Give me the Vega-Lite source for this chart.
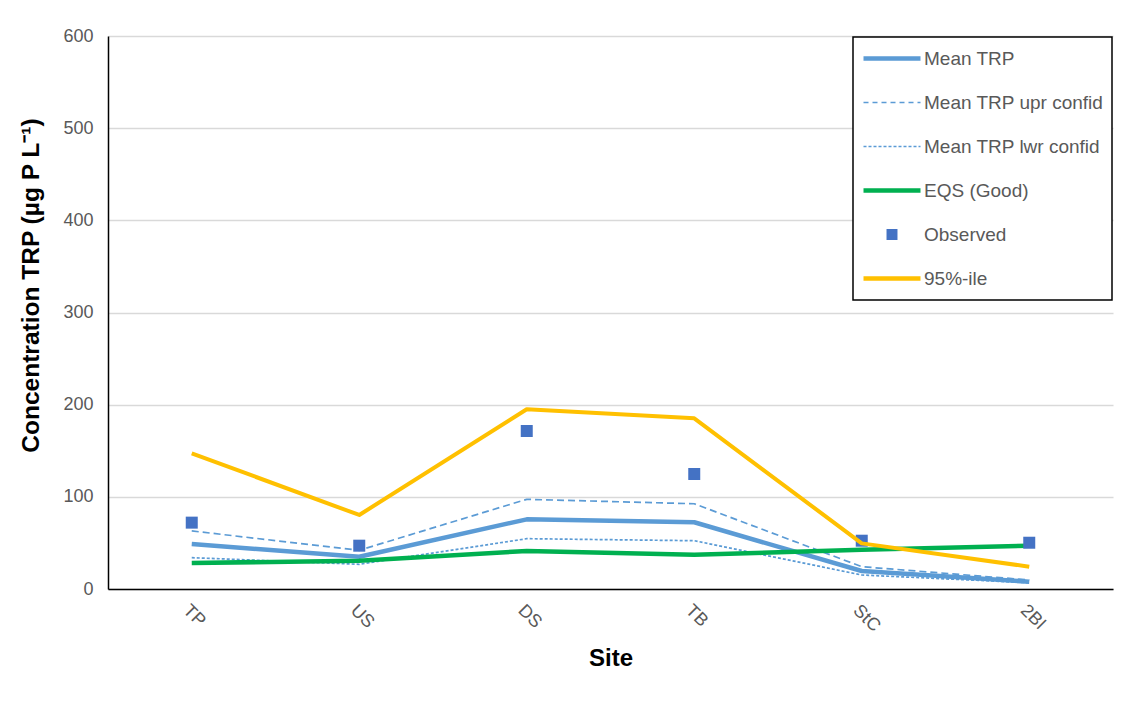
{
  "$schema": "https://vega.github.io/schema/vega-lite/v6.json",
  "width": 1005,
  "height": 553,
  "autosize": {"type": "none"},
  "padding": {"left": 108, "top": 36, "right": 23, "bottom": 135},
  "background": "white",
  "config": {
    "view": {"stroke": null},
    "font": "Liberation Sans"
  },
  "data": {
    "values": [
      {"site": "TP", "series": "Mean TRP", "value": 48.8},
      {"site": "US", "series": "Mean TRP", "value": 35},
      {"site": "DS", "series": "Mean TRP", "value": 75.6},
      {"site": "TB", "series": "Mean TRP", "value": 72.4},
      {"site": "StC", "series": "Mean TRP", "value": 19.5},
      {"site": "2BI", "series": "Mean TRP", "value": 7.9},
      {"site": "TP", "series": "Mean TRP upr confid", "value": 63},
      {"site": "US", "series": "Mean TRP upr confid", "value": 42},
      {"site": "DS", "series": "Mean TRP upr confid", "value": 97.3},
      {"site": "TB", "series": "Mean TRP upr confid", "value": 92.5},
      {"site": "StC", "series": "Mean TRP upr confid", "value": 24.2},
      {"site": "2BI", "series": "Mean TRP upr confid", "value": 9.8},
      {"site": "TP", "series": "Mean TRP lwr confid", "value": 34},
      {"site": "US", "series": "Mean TRP lwr confid", "value": 26.8},
      {"site": "DS", "series": "Mean TRP lwr confid", "value": 54.6},
      {"site": "TB", "series": "Mean TRP lwr confid", "value": 52.4},
      {"site": "StC", "series": "Mean TRP lwr confid", "value": 15.2},
      {"site": "2BI", "series": "Mean TRP lwr confid", "value": 6.8},
      {"site": "TP", "series": "EQS (Good)", "value": 28.2},
      {"site": "US", "series": "EQS (Good)", "value": 30.7},
      {"site": "DS", "series": "EQS (Good)", "value": 41.2},
      {"site": "TB", "series": "EQS (Good)", "value": 37.2},
      {"site": "StC", "series": "EQS (Good)", "value": 42.6},
      {"site": "2BI", "series": "EQS (Good)", "value": 47},
      {"site": "TP", "series": "Observed", "value": 72},
      {"site": "US", "series": "Observed", "value": 47},
      {"site": "DS", "series": "Observed", "value": 171.4},
      {"site": "TB", "series": "Observed", "value": 124.8},
      {"site": "StC", "series": "Observed", "value": 52.4},
      {"site": "2BI", "series": "Observed", "value": 50.2},
      {"site": "TP", "series": "95%-ile", "value": 147.2},
      {"site": "US", "series": "95%-ile", "value": 80.3},
      {"site": "DS", "series": "95%-ile", "value": 195},
      {"site": "TB", "series": "95%-ile", "value": 185.2},
      {"site": "StC", "series": "95%-ile", "value": 49.5},
      {"site": "2BI", "series": "95%-ile", "value": 24.2}
    ]
  },
  "encoding": {
    "x": {
      "field": "site",
      "type": "nominal",
      "sort": ["TP", "US", "DS", "TB", "StC", "2BI"],
      "scale": {"type": "point", "padding": 0.5},
      "axis": {
        "title": "Site",
        "titleFontSize": 24,
        "titleFontWeight": "bold",
        "titleColor": "black",
        "titlePadding": 12,
        "labelAngle": 45,
        "labelAlign": "left",
        "labelBaseline": "top",
        "labelFontSize": 18,
        "labelColor": "#595959",
        "labelPadding": 12,
        "labelDx": 8,
        "ticks": false,
        "domainColor": "black",
        "domainWidth": 1.5,
        "grid": false
      }
    },
    "y": {
      "field": "value",
      "type": "quantitative",
      "scale": {"domain": [0, 600], "nice": false},
      "axis": {
        "title": "Concentration TRP (µg P L⁻¹)",
        "titleFontSize": 24.5,
        "titleFontWeight": "bold",
        "titleColor": "black",
        "titlePadding": 19,
        "titleY": 249,
        "values": [0, 100, 200, 300, 400, 500, 600],
        "labelFontSize": 18,
        "labelColor": "#595959",
        "labelPadding": 15,
        "ticks": false,
        "domainColor": "black",
        "domainWidth": 1.5,
        "gridColor": "#D9D9D9",
        "gridWidth": 1.3
      }
    },
    "color": {
      "field": "series",
      "type": "nominal",
      "scale": {
        "domain": ["Mean TRP", "Mean TRP upr confid", "Mean TRP lwr confid", "EQS (Good)", "Observed", "95%-ile"],
        "range": ["#5B9BD5", "#5B9BD5", "#5B9BD5", "#00B050", "#4472C4", "#FFC000"]
      },
      "legend": {
        "title": null,
        "orient": "none",
        "legendX": 745,
        "legendY": 1,
        "strokeColor": "black",
        "fillColor": "white",
        "padding": 8,
        "rowPadding": 17,
        "clipHeight": 27,
        "symbolSize": 3249,
        "symbolType": "stroke",
        "labelFontSize": 19,
        "labelColor": "#595959",
        "labelOffset": 1,
        "labelLimit": 400,
        "encode": {
          "legend": {"update": {"strokeWidth": {"value": 1.5}}},
          "symbols": {
            "update": {
              "shape": {"signal": "(datum.value === 'Observed' ? 'square' : 'stroke')"},
              "size": {"signal": "(datum.value === 'Observed' ? 120 : 3249)"},
              "strokeWidth": {"signal": "(datum.value === 'Observed' ? 0 : ((datum.value === 'Mean TRP upr confid' || datum.value === 'Mean TRP lwr confid') ? 1.6 : 4.5))"},
              "strokeDash": {"signal": "(datum.value === 'Mean TRP upr confid' ? [5, 4] : (datum.value === 'Mean TRP lwr confid' ? [3, 2] : [1, 0]))"},
              "fill": {"signal": "(datum.value === 'Observed' ? '#4472C4' : 'transparent')"},
              "opacity": {"value": 1}
            }
          }
        }
      }
    }
  },
  "layer": [
    {
      "transform": [{"filter": "datum.series === 'Mean TRP'"}],
      "mark": {"type": "line", "strokeWidth": 4.5, "strokeJoin": "round"}
    },
    {
      "transform": [{"filter": "datum.series === 'Mean TRP upr confid'"}],
      "mark": {"type": "line", "strokeWidth": 1.7, "strokeDash": [7, 4]}
    },
    {
      "transform": [{"filter": "datum.series === 'Mean TRP lwr confid'"}],
      "mark": {"type": "line", "strokeWidth": 1.7, "strokeDash": [3, 2]}
    },
    {
      "transform": [{"filter": "datum.series === 'EQS (Good)'"}],
      "mark": {"type": "line", "strokeWidth": 4.5, "strokeJoin": "round"}
    },
    {
      "transform": [{"filter": "datum.series === 'Observed'"}],
      "mark": {"type": "point", "shape": "square", "filled": true, "size": 144, "opacity": 1}
    },
    {
      "transform": [{"filter": "datum.series === '95%-ile'"}],
      "mark": {"type": "line", "strokeWidth": 4, "strokeJoin": "round"}
    }
  ]
}
